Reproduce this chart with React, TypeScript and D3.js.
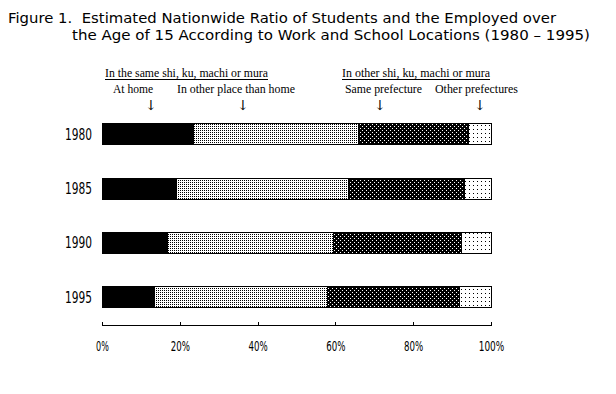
import React, { useRef, useEffect } from 'react';
import * as d3 from 'd3';

const YEARS = ['1980', '1985', '1990', '1995'];
const KEYS = ['home', 'sameMuni', 'samePref', 'otherPref'];
// shares (%)
const AT_HOME = [23.3, 18.9, 16.6, 13.3];
const OTHER_PLACE = [42.6, 44.4, 42.7, 44.6];
const SAME_PREF = [28.1, 29.8, 32.9, 34.0];
const OTHER_PREF = [6.0, 6.9, 7.8, 8.1];
const X_TICKS = [0, 20, 40, 60, 80, 100];

const TITLE_1 = 'Figure 1.  Estimated Nationwide Ratio of Students and the Employed over';
const TITLE_2 = 'the Age of 15 According to Work and School Locations (1980 \u2013 1995)';

const GROUPS = [
  { text: 'In the same shi, ku, machi or mura', x: 105, w: 163 },
  { text: 'In other shi, ku, machi or mura', x: 342, w: 148 },
];
const LABELS = [
  { text: 'At home', x: 113, w: 40, arrow: 151 },
  { text: 'In other place than home', x: 177, w: 118, arrow: 243 },
  { text: 'Same prefecture', x: 345, w: 77, arrow: 380 },
  { text: 'Other prefectures', x: 435, w: 83, arrow: 480 },
];

export default function App() {
  const svgRef = useRef<SVGSVGElement>(null);

  useEffect(() => {
    if (!svgRef.current) return;
    const svg = d3.select(svgRef.current);
    svg.selectAll('*').remove();

    const rows = YEARS.map((y, i) => ({
      year: y, home: AT_HOME[i], sameMuni: OTHER_PLACE[i], samePref: SAME_PREF[i], otherPref: OTHER_PREF[i],
    }));
    const stack = d3.stack<any>().keys(KEYS)(rows);

    const x = d3.scaleLinear().domain([0, 100]).range([102.5, 491.5]);
    const y = d3.scaleBand().domain(YEARS).range([107, 323.5]).paddingInner(0.613).paddingOuter(0.3);

    const defs = svg.append('defs');
    // light dots
    const p1 = defs.append('pattern').attr('id', 'pLight').attr('patternUnits', 'userSpaceOnUse').attr('width', 2).attr('height', 2);
    p1.append('rect').attr('width', 2).attr('height', 2).attr('fill', '#fff');
    p1.append('rect').attr('width', 1).attr('height', 1).attr('fill', '#000');
    // dark with white dots
    const p2 = defs.append('pattern').attr('id', 'pDark').attr('patternUnits', 'userSpaceOnUse').attr('width', 4).attr('height', 4);
    p2.append('rect').attr('width', 4).attr('height', 4).attr('fill', '#000');
    p2.append('rect').attr('x', 0).attr('y', 0).attr('width', 1).attr('height', 1).attr('fill', '#fff');
    p2.append('rect').attr('x', 2).attr('y', 2).attr('width', 1).attr('height', 1).attr('fill', '#fff');
    // sparse dots
    const p3 = defs.append('pattern').attr('id', 'pSparse').attr('patternUnits', 'userSpaceOnUse').attr('width', 4).attr('height', 4);
    p3.append('rect').attr('width', 4).attr('height', 4).attr('fill', '#fff');
    p3.append('rect').attr('x', 1).attr('y', 1).attr('width', 1).attr('height', 1).attr('fill', '#000');
    const fills: Record<string, string> = { home: '#000', sameMuni: 'url(#pLight)', samePref: 'url(#pDark)', otherPref: 'url(#pSparse)' };

    const gothic = "'DejaVu Sans', 'Liberation Sans', sans-serif";
    const serif = "'Liberation Serif', 'DejaVu Serif', serif";

    svg.append('text').attr('x', 8).attr('y', 23).attr('font-family', gothic).attr('font-size', 14)
      .attr('xml:space', 'preserve').style('white-space', 'pre')
      .attr('textLength', 548).attr('lengthAdjust', 'spacingAndGlyphs').attr('fill', '#000').text(TITLE_1);
    svg.append('text').attr('x', 72).attr('y', 40).attr('font-family', gothic).attr('font-size', 14)
      .attr('textLength', 518).attr('lengthAdjust', 'spacingAndGlyphs').attr('fill', '#000').text(TITLE_2);

    GROUPS.forEach((g) => {
      svg.append('text').attr('x', g.x).attr('y', 77).attr('font-family', serif).attr('font-size', 12.5)
        .attr('textLength', g.w).attr('lengthAdjust', 'spacingAndGlyphs').attr('fill', '#000').text(g.text);
      svg.append('line').attr('x1', g.x).attr('x2', g.x + g.w).attr('y1', 79.5).attr('y2', 79.5).attr('stroke', '#000');
    });
    LABELS.forEach((l) => {
      svg.append('text').attr('x', l.x).attr('y', 93).attr('font-family', serif).attr('font-size', 12.5)
        .attr('textLength', l.w).attr('lengthAdjust', 'spacingAndGlyphs').attr('fill', '#000').text(l.text);
      svg.append('text').attr('x', l.arrow).attr('y', 110).attr('text-anchor', 'middle')
        .attr('font-family', "'DejaVu Serif', serif").attr('font-size', 14).attr('fill', '#000').text('\u2193');
    });

    const g = svg.append('g').attr('shape-rendering', 'crispEdges');
    stack.forEach((layer) => {
      g.selectAll(null).data(layer).enter().append('rect')
        .attr('x', (d) => x(d[0]))
        .attr('y', (d) => (y(d.data.year) as number) + 0.5)
        .attr('width', (d) => x(d[1]) - x(d[0]))
        .attr('height', y.bandwidth())
        .attr('fill', fills[layer.key])
        .attr('stroke', '#000').attr('stroke-width', 1);
    });

    YEARS.forEach((yr) => {
      svg.append('text').attr('x', 92).attr('y', (y(yr) as number) + y.bandwidth() / 2 + 6)
        .attr('text-anchor', 'end').attr('font-family', gothic).attr('font-size', 16).attr('fill', '#000')
        .attr('textLength', 27).attr('lengthAdjust', 'spacingAndGlyphs').text(yr);
    });

    const ax = svg.append('g').attr('shape-rendering', 'crispEdges');
    ax.append('line').attr('x1', x(0)).attr('x2', x(100)).attr('y1', 325.5).attr('y2', 325.5).attr('stroke', '#000');
    X_TICKS.forEach((t) => {
      ax.append('line').attr('x1', x(t)).attr('x2', x(t)).attr('y1', 321.5).attr('y2', 325.5).attr('stroke', '#000');
      const label = `${t}%`;
      svg.append('text').attr('x', x(t)).attr('y', 351).attr('text-anchor', 'middle')
        .attr('font-family', gothic).attr('font-size', 14.5).attr('fill', '#000')
        .attr('textLength', label.length * 6.4).attr('lengthAdjust', 'spacingAndGlyphs').text(label);
    });
  }, []);

  return (
    <div style={{ position: 'absolute', left: 0, top: 0, width: 616, height: 394, background: '#fff' }}>
      <svg ref={svgRef} width={616} height={394} style={{ display: 'block' }} />
    </div>
  );
}
